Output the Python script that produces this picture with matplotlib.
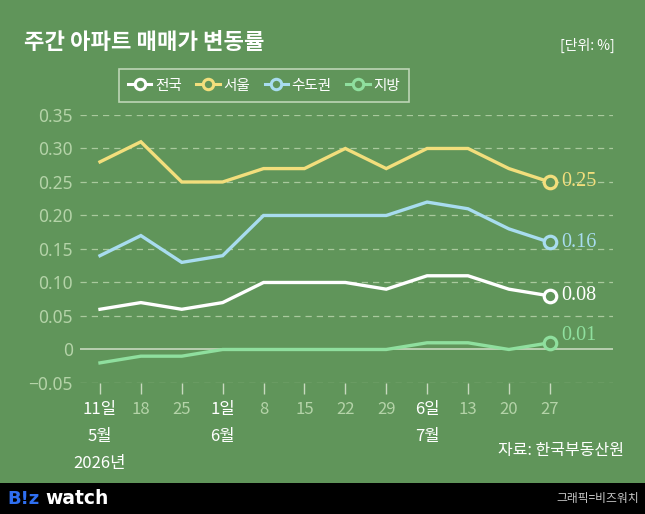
import numpy as np
import matplotlib
matplotlib.use('Agg')
import matplotlib.pyplot as plt

plt.rcParams['font.family'] = ['Noto Sans CJK KR', 'DejaVu Sans']

# 데이터
weeks = ['11일\n5월\n2026년', '18', '25', '1일\n6월', '8', '15', '22', '29',
         '6일\n7월', '13', '20', '27']
major = [0, 3, 8]
names = ['전국', '서울', '수도권', '지방']
nation = [0.06, 0.07, 0.06, 0.07, 0.10, 0.10, 0.10, 0.09, 0.11, 0.11, 0.09, 0.08]
seoul = [0.28, 0.31, 0.25, 0.25, 0.27, 0.27, 0.30, 0.27, 0.30, 0.30, 0.27, 0.25]
metro = [0.14, 0.17, 0.13, 0.14, 0.20, 0.20, 0.20, 0.20, 0.22, 0.21, 0.18, 0.16]
local = [-0.02, -0.01, -0.01, 0.00, 0.00, 0.00, 0.00, 0.00, 0.01, 0.01, 0.00, 0.01]
yticks = [-0.05, 0, 0.05, 0.10, 0.15, 0.20, 0.25, 0.30, 0.35]
ylabels = ['\u22120.05', '0', '0.05', '0.10', '0.15', '0.20', '0.25', '0.30', '0.35']

bg = '#60955a'
colors = ['#ffffff', '#f2de7c', '#a8dcef', '#8fdf9e']
light = '#b4d3a8'

fig = plt.figure(figsize=(6.45, 5.14), dpi=100, facecolor=bg)
ax = fig.add_axes([0.124, 0.2549, 0.826, 0.5214])
ax.set_facecolor(bg)

x = np.arange(len(weeks))
series = [nation, seoul, metro, local]
for s, c, n in zip(series, colors, names):
    ax.plot(x, s, color=c, lw=2.4, solid_joinstyle='miter', zorder=3)
    ax.plot(x[-1], s[-1], 'o', ms=9, mfc=bg, mec=c, mew=2.3, zorder=4)
    # 범례용
    ax.plot([], [], color=c, lw=2.2, marker='o', ms=7.5, mfc=bg, mec=c, mew=2.2, label=n)

offs = [0, 0, 0, 5]
for s, c, o in zip(series, colors, offs):
    ax.annotate('%.2f' % s[-1], (x[-1], s[-1]), xytext=(8, o), textcoords='offset points',
                va='center', ha='left', color=c, fontsize=14.5, family='Liberation Serif')

ax.set_xlim(-0.489, 12.54)
ax.set_ylim(-0.05, 0.35)
for v in yticks:
    if v == 0:
        ax.axhline(0, color='#c8d9bf', lw=1.2, zorder=2)
    else:
        ax.axhline(v, color='#a9c99d', lw=0.9, ls=(0, (5, 4)), zorder=1)

for sp in ax.spines.values():
    sp.set_visible(False)
ax.set_yticks(yticks)
ax.set_yticklabels(ylabels, family=['Noto Sans', 'DejaVu Sans'])
ax.tick_params(axis='y', length=0, pad=5, labelsize=12.5, colors=light)
ax.set_xticks(x)
ax.set_xticklabels(weeks, linespacing=1.75)
ax.tick_params(axis='x', length=8, width=1, color='#c8d9bf', pad=5, labelsize=12)
for i, t in enumerate(ax.get_xticklabels()):
    t.set_color('white' if i in major else light)

leg = ax.legend(loc='center left', bbox_to_anchor=(0.073, 1.11), ncol=4, frameon=True,
                fontsize=10.5, handlelength=1.6, columnspacing=1.0, handletextpad=0.25,
                borderpad=0.62, borderaxespad=0, fancybox=False)
leg.get_frame().set_facecolor(bg)
leg.get_frame().set_edgecolor('#d5e6cd')
leg.get_frame().set_linewidth(1.2)
for t in leg.get_texts():
    t.set_color('white')

fig.text(0.037, 0.918, '주간 아파트 매매가 변동률', fontsize=16, weight='bold',
         color='white', va='center')
fig.text(0.953, 0.912, '[단위: %]', fontsize=10, color='white', va='center', ha='right')
fig.text(0.968, 0.124, '자료: 한국부동산원', fontsize=11.5, color='white', va='center', ha='right')

# 하단 바
fig.patches.append(plt.Rectangle((0, 0), 1, 0.06, transform=fig.transFigure,
                                 facecolor='black', zorder=0))
fig.text(0.012, 0.030, 'B!z', fontsize=13, weight='bold', color='#2f6ff0', va='center',
         family='DejaVu Sans')
fig.text(0.070, 0.030, 'watch', fontsize=13.5, weight='bold', color='white', va='center',
         family='DejaVu Sans')
fig.text(0.99, 0.030, '그래픽=비즈워치', fontsize=8.5, color='#c8c8c8', va='center', ha='right')

fig.savefig('out.png', dpi=100, facecolor=bg)
